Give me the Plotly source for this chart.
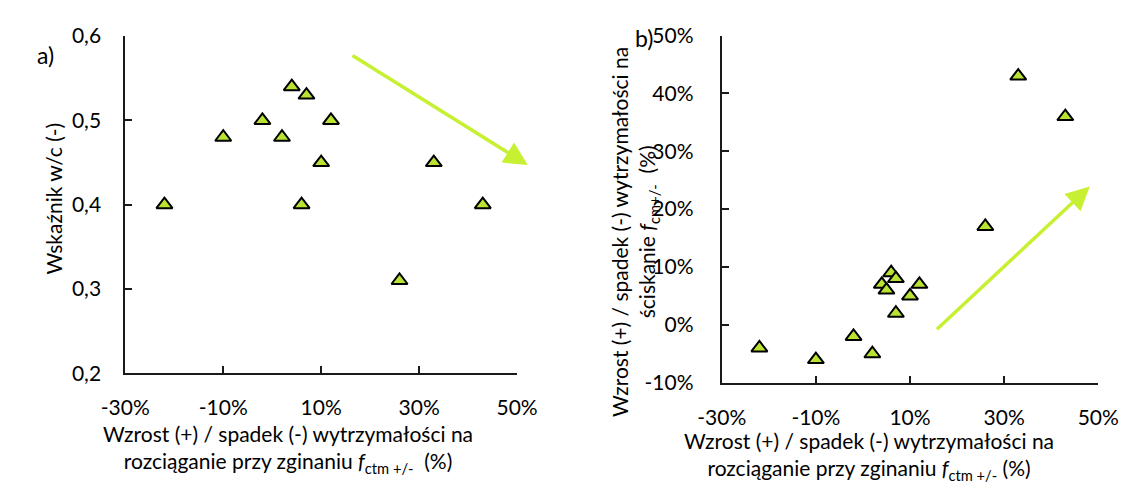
import plotly.graph_objects as go

# (a) w/c ratio vs change of flexural tensile strength
a_strength_change = [-22, -10, -2, 2, 4, 7, 12, 10, 6, 26, 33, 43]        # %
a_wc_ratio = [0.40, 0.48, 0.50, 0.48, 0.54, 0.53, 0.50, 0.45, 0.40, 0.31, 0.45, 0.40]

# (b) change of compressive strength vs change of flexural tensile strength
b_strength_change = [-22, -10, -2, 2, 4, 5, 6, 7, 7, 10, 12, 26, 33, 43]  # %
b_compressive_change = [-4, -6, -2, -5, 7, 6, 9, 8, 2, 5, 7, 17, 43, 36]   # %

x_ticks = [-30, -10, 10, 30, 50]
x_tick_labels = ["-30%", "-10%", "10%", "30%", "50%"]
a_y_ticks = [0.2, 0.3, 0.4, 0.5, 0.6]
a_y_tick_labels = ["0,2", "0,3", "0,4", "0,5", "0,6"]
b_y_ticks = [-10, 0, 10, 20, 30, 40, 50]
b_y_tick_labels = ["-10%", "0%", "10%", "20%", "30%", "40%", "50%"]

# trend arrows (tail -> head) in data units of each panel
a_arrow = dict(tail=(16.1, 0.578), head=(52.2, 0.447))
b_arrow = dict(tail=(15.4, -1.0), head=(48.2, 23.9))

W, H = 1142, 495
FONT = "Lato"
MARKER_FILL = "#B9E232"
ARROW_COLOR = "#C8F032"
AXIS_COLOR = "#1a1a1a"


def px(x):
    return x / W


def py(y):
    return 1 - y / H


fig = go.Figure()

marker = dict(symbol="triangle-up", size=14, color=MARKER_FILL,
              line=dict(color="#000000", width=2))

fig.add_trace(go.Scatter(x=a_strength_change, y=a_wc_ratio, mode="markers",
                         marker=marker, xaxis="x", yaxis="y", showlegend=False))
fig.add_trace(go.Scatter(x=b_strength_change, y=b_compressive_change, mode="markers",
                         marker=marker, xaxis="x2", yaxis="y2", showlegend=False))

axis_common = dict(
    showgrid=False, zeroline=False, showline=True, linecolor=AXIS_COLOR,
    linewidth=2, ticks="inside", ticklen=7, tickwidth=2, tickcolor=AXIS_COLOR,
    tickfont=dict(family=FONT, size=21, color="#000000"), tickmode="array",
)

fig.update_layout(
    width=W, height=H,
    margin=dict(l=0, r=0, t=0, b=0),
    paper_bgcolor="white", plot_bgcolor="white",
    font=dict(family=FONT, color="#000000"),
    xaxis=dict(axis_common, domain=[px(104.5), px(512.7)], range=[-30, 50],
               tickvals=x_ticks, ticktext=x_tick_labels, anchor="y",
               ticklabelstandoff=15),
    yaxis=dict(axis_common, domain=[py(378.3), py(23.3)], range=[0.2, 0.6],
               tickvals=a_y_ticks, ticktext=a_y_tick_labels, anchor="x",
               ticklabelstandoff=18),
    xaxis2=dict(axis_common, domain=[px(726), px(1118.3)], range=[-30, 50],
                tickvals=x_ticks, ticktext=x_tick_labels, anchor="y2",
                ticklabelstandoff=15),
    yaxis2=dict(axis_common, domain=[py(388.3), py(22.7)], range=[-10, 50],
                tickvals=b_y_ticks, ticktext=b_y_tick_labels, anchor="x2",
                ticklabelstandoff=22),
)


def arrow(spec, xref, yref):
    (tx, ty), (hx, hy) = spec["tail"], spec["head"]
    return dict(x=hx, y=hy, ax=tx, ay=ty, xref=xref, yref=yref,
                axref=xref, ayref=yref, text="", showarrow=True,
                arrowhead=2, arrowsize=1.35, arrowwidth=3.5,
                arrowcolor=ARROW_COLOR, standoff=0)


def label(text, x, y, size=21, angle=0):
    return dict(text=text, x=px(x), y=py(y), xref="paper", yref="paper",
                showarrow=False, xanchor="center", yanchor="middle",
                textangle=angle, font=dict(family=FONT, size=size, color="#000000"))


fx_sub = "<i>f</i><sub>ctm +/-</sub>"
annotations = [
    arrow(a_arrow, "x", "y"),
    arrow(b_arrow, "x2", "y2"),
    label("a)", 21.5, 43, size=23),
    label("b)", 645, 25, size=23),
    label("Wskaźnik w/c (-)", 29.4, 194, size=21, angle=-90),
    label("Wzrost (+) / spadek (-) wytrzymałości na<br>"
          "rozciąganie przy zginaniu " + fx_sub + "  (%)", 274, 458),
    label("Wzrost (+) / spadek (-) wytrzymałości na<br>"
          "rozciąganie przy zginaniu " + fx_sub + " (%)", 879, 465),
    label("Wzrost (+) / spadek (-) wytrzymałości na", 619.4, 229, angle=-90),
    label("ściskanie <i>f</i><sub>cm+/-</sub>  (%)", 650, 229, angle=-90),
]
fig.update_layout(annotations=annotations)

fig.write_html("out.html")
